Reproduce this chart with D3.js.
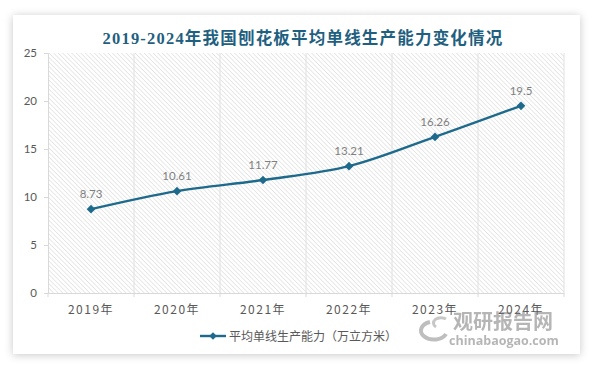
<!DOCTYPE html>
<html><head><meta charset="utf-8">
<script src="https://cdn.jsdelivr.net/npm/d3@7"></script>
<style>html,body{margin:0;padding:0;background:#fff;}svg{display:block;}</style>
</head><body>
<script>
const categories = ["2019年","2020年","2021年","2022年","2023年","2024年"];
const values = [8.73, 10.61, 11.77, 13.21, 16.26, 19.5];
const yTicks = [0,5,10,15,20,25];
const title = "2019-2024年我国刨花板平均单线生产能力变化情况";
const seriesName = "平均单线生产能力（万立方米）";

const W=594,H=366;
const svg=d3.select("body").append("svg").attr("width",W).attr("height",H);
const defs=svg.append("defs");
const f=defs.append("filter").attr("id","sh").attr("x","-10%").attr("y","-10%").attr("width","120%").attr("height","120%");
f.append("feDropShadow").attr("dx",0).attr("dy",1).attr("stdDeviation",4).attr("flood-color","#000").attr("flood-opacity",0.22);
const p=defs.append("pattern").attr("id","hatch").attr("patternUnits","userSpaceOnUse").attr("width",3.2).attr("height",3.2).attr("patternTransform","rotate(-45)");
p.append("line").attr("x1",0).attr("y1",0).attr("x2",0).attr("y2",3.2).attr("stroke","#d6d6d6").attr("stroke-width",1.1);

svg.append("rect").attr("x",13).attr("y",15).attr("width",567).attr("height",339).attr("fill","#fff").attr("filter","url(#sh)");

const m={l:48,r:564,t:53,b:293};
const x=d3.scaleBand().domain(categories).range([m.l,m.r]);
const y=d3.scaleLinear().domain([0,25]).range([m.b,m.t]);

svg.append("rect").attr("x",m.l).attr("y",m.t).attr("width",m.r-m.l).attr("height",m.b-m.t).attr("fill","url(#hatch)");

const bounds=categories.map(c=>x(c)).concat([m.r]);
svg.append("g").selectAll("line").data(bounds.slice(1)).join("line")
  .attr("x1",d=>d).attr("x2",d=>d).attr("y1",m.t).attr("y2",m.b).attr("stroke","#e0e0e0").attr("stroke-width",1);

const ya=svg.append("g").attr("transform",`translate(${m.l},0)`).call(d3.axisLeft(y).tickValues(yTicks).tickSize(4).tickPadding(7));
ya.select(".domain").attr("stroke","#d9d9d9");
ya.selectAll(".tick line").attr("stroke","#d9d9d9");
ya.selectAll("text").attr("fill","#595959").style("font-family","Lato, 'Open Sans', sans-serif").style("font-size","11.5px");

const xa=svg.append("g").attr("transform",`translate(0,${m.b})`).call(d3.axisBottom(x).tickSize(0).tickPadding(12));
xa.select(".domain").attr("stroke","#d9d9d9");
xa.selectAll("text").attr("fill","#595959").style("font-family","'Noto Sans CJK SC', sans-serif").style("font-size","12px").style("letter-spacing","1.5px");
svg.append("g").selectAll("line").data(bounds).join("line")
  .attr("x1",d=>d).attr("x2",d=>d).attr("y1",m.b).attr("y2",m.b+4).attr("stroke","#d9d9d9");

const color="#1d6a8c";
const line=d3.line().x((d,i)=>x(categories[i])+x.bandwidth()/2).y(d=>y(d)).curve(d3.curveCatmullRom.alpha(0.5));
svg.append("path").datum(values).attr("d",line).attr("fill","none").attr("stroke",color).attr("stroke-width",2.4);
const diamond=d3.symbol().type(d3.symbolDiamond2).size(48);
svg.append("g").selectAll("path").data(values).join("path")
  .attr("transform",(d,i)=>`translate(${x(categories[i])+x.bandwidth()/2},${y(d)})`)
  .attr("d",diamond).attr("fill",color);
svg.append("g").selectAll("text").data(values).join("text")
  .attr("x",(d,i)=>x(categories[i])+x.bandwidth()/2).attr("y",d=>y(d)-11)
  .attr("text-anchor","middle").attr("fill","#7f7f7f")
  .style("font-family","Lato, 'Open Sans', sans-serif").style("font-size","11.5px").text(d=>d);

svg.append("text").attr("x",303).attr("y",44).attr("text-anchor","middle")
  .attr("fill","#1f5f80").style("font-family","'Liberation Serif','Noto Sans CJK SC',serif").style("font-weight","bold")
  .style("font-size","16.5px").style("letter-spacing","1.2px").text(title);

svg.append("line").attr("x1",200).attr("x2",226).attr("y1",336).attr("y2",336).attr("stroke",color).attr("stroke-width",2.4);
svg.append("path").attr("transform","translate(213,336)").attr("d",d3.symbol().type(d3.symbolDiamond2).size(36)).attr("fill",color);
svg.append("text").attr("x",229).attr("y",340.5).attr("fill","#595959")
  .style("font-family","'Noto Sans CJK SC', sans-serif").style("font-size","12px").text(seriesName);

const wm=svg.append("g").attr("opacity",0.55);
wm.append("path").attr("d","M 430 322 A 13 9 0 1 0 446 334").attr("fill","none").attr("stroke","#8a8a8a").attr("stroke-width",4);
wm.append("path").attr("d","M 436 327 A 7 5 0 1 1 446 319").attr("fill","none").attr("stroke","#9a9a9a").attr("stroke-width",3);
wm.append("text").attr("x",453).attr("y",329).attr("fill","#7a7a7a").style("font-family","'Noto Sans CJK SC',sans-serif").style("font-weight","bold").style("font-size","20px").text("观研报告网");
wm.append("text").attr("x",449).attr("y",345).attr("fill","#7a7a7a").style("font-family","'Open Sans',sans-serif").style("font-weight","bold").style("font-size","12.5px").text("chinabaogao.com");
</script>
</body></html>
